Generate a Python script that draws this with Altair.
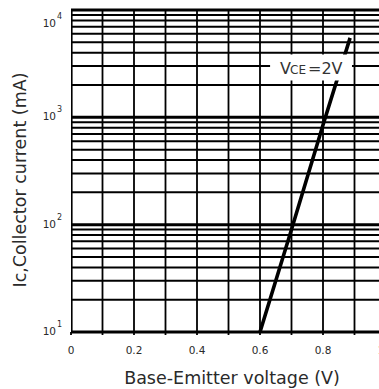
import altair as alt
import pandas as pd

# ---- data ----
vbe = [0.6, 0.7, 0.8, 0.886]          # Base-Emitter voltage (V)
ic = [10, 90, 850, 5500]              # Collector current (mA)

v_grid = [0.0, 0.1, 0.2, 0.3, 0.4, 0.5, 0.6, 0.7, 0.8, 0.9]
x_label_vals = [0.0, 0.2, 0.4, 0.6, 0.8, 1.0]
x_label_txt = ["0", "0.2", "0.4", "0.6", "0.8", "1.0"]
y_exps = [1, 2, 3, 4]
mantissas = [1, 2, 3, 4, 5, 6, 7, 8, 9]
decades = [10, 100, 1000]

x_title = "Base-Emitter voltage (V)"
y_title = "Ic,Collector current  (mA)"
ann_parts = ["V", "CE", "=2V"]
ann_v = [0.6635]
ann_ic = [2550]
box_v = [0.632, 0.892]
box_ic = [2200, 3850]

FONT = "DejaVu Sans"
TXT = "#2a2a2a"

h_grid = [m * d for d in decades for m in mantissas] + [10000]

df_line = pd.DataFrame({"v": vbe, "ic": ic})
df_vg = pd.DataFrame({"v": v_grid})
df_hg = pd.DataFrame({"ic": h_grid})
df_xl = pd.DataFrame({"v": x_label_vals, "t": x_label_txt})
df_yl = pd.DataFrame({"e": y_exps, "ic": [10 ** e for e in y_exps], "s": [str(e) for e in y_exps]})
df_box = pd.DataFrame({"v": [box_v[0]], "v2": [box_v[1]], "ic": [box_ic[0]], "ic2": [box_ic[1]]})
df_ann = pd.DataFrame({"v": ann_v, "ic": ann_ic})
df_one = pd.DataFrame({"k": [0]})

xscale = alt.Scale(domain=[0, 308 / 315], nice=False, zero=False)
yscale = alt.Scale(type="log", domain=[10, 10000], nice=False)
X = lambda f="v:Q": alt.X(f, scale=xscale, axis=None)
Y = lambda f="ic:Q": alt.Y(f, scale=yscale, axis=None)

vgrid = alt.Chart(df_vg).mark_rule(color="black", clip=True).encode(
    x=X(),
    strokeWidth=alt.condition("datum.v == 0", alt.value(3.2), alt.value(1.8)),
)
vticks = alt.Chart(df_vg).mark_rule(color="black", strokeWidth=1.8).encode(
    x=X(), y=alt.value(322), y2=alt.value(325),
)

hgrid = alt.Chart(df_hg).mark_rule(color="black").encode(
    y=Y(),
    strokeWidth=alt.condition(
        "abs(log(datum.ic)/LN10 - round(log(datum.ic)/LN10)) < 0.001",
        alt.value(3.0), alt.value(2.0)),
)

line = alt.Chart(df_line).mark_line(color="black", strokeWidth=3.6, strokeCap="butt").encode(
    x=X(), y=Y(),
)

box = alt.Chart(df_box).mark_rect(color="white").encode(
    x=X(), x2="v2:Q", y=Y(), y2="ic2:Q",
)

def ann(i, dx, size):
    return alt.Chart(df_ann).mark_text(
        text=ann_parts[i], align="left", baseline="alphabetic", dx=dx,
        font=FONT, fontSize=size, color="#333",
    ).encode(x=X(), y=Y())

ann_v_t = ann(0, 0, 16)
ann_ce = ann(1, 10, 12)
ann_eq = ann(2, 28, 16)

xl = alt.Chart(df_xl).mark_text(font=FONT, fontSize=10.5, color=TXT, baseline="middle",
                                align="center").encode(
    x=X(), y=alt.value(341), text="t:N")

def ylab(cond, txt_dy):
    base = alt.Chart(df_yl).transform_filter(cond)
    t10 = base.mark_text(font=FONT, fontSize=10.5, color=TXT, align="right",
                         baseline="middle", dy=txt_dy).encode(
        x=alt.value(-15), y=Y(), text=alt.value("10"))
    sup = base.mark_text(font=FONT, fontSize=8, color=TXT, align="left",
                         baseline="middle", dy=txt_dy - 7).encode(
        x=alt.value(-14), y=Y(), text="s:N")
    return [t10, sup]

ylabels = ylab("datum.e < 4", 0) + ylab("datum.e == 4", 14)

xt = alt.Chart(df_one).mark_text(text=x_title, font=FONT, fontSize=17.5, color=TXT,
                                 align="center", baseline="alphabetic").encode(
    x=alt.value(161), y=alt.value(374))
yt = alt.Chart(df_one).mark_text(text=y_title, font=FONT, fontSize=17.5, color=TXT,
                                 align="center", baseline="alphabetic", angle=270).encode(
    x=alt.value(-45), y=alt.value(170))

chart = alt.layer(
    vgrid, vticks, hgrid, line, box, ann_v_t, ann_ce, ann_eq, xl, *ylabels, xt, yt
).properties(
    width=308, height=322, autosize="none",
    padding={"left": 71, "top": 10, "right": 0, "bottom": 57},
    background="white",
).configure_view(stroke=None)

chart.save("out.html", embed_options={"renderer": "svg", "actions": False})
